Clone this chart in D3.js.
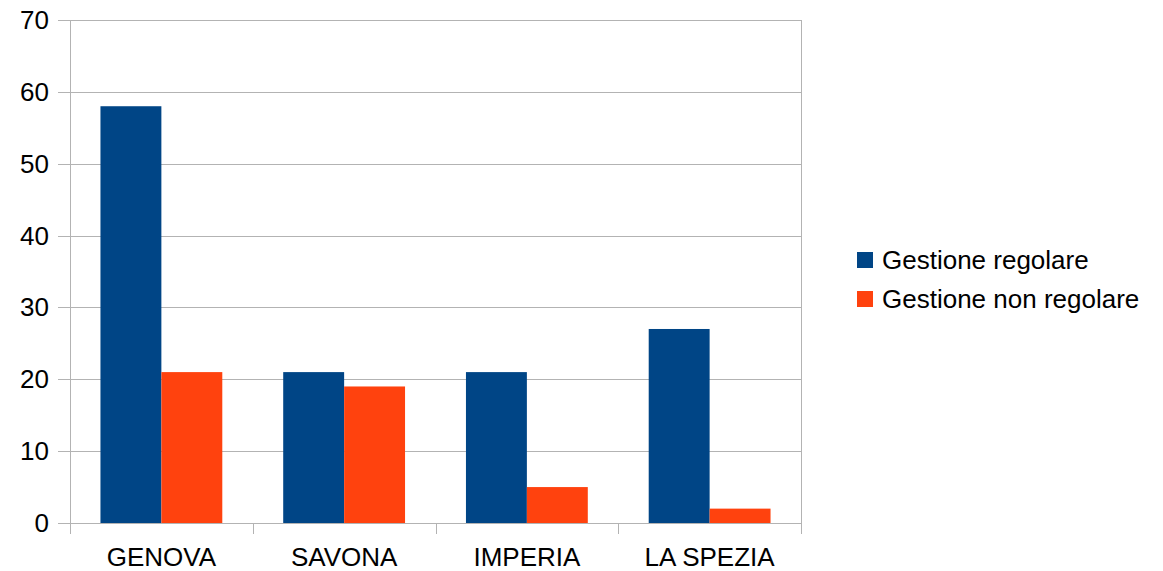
<!DOCTYPE html>
<html>
<head>
<meta charset="utf-8">
<script src="https://cdn.jsdelivr.net/npm/d3@7"></script>
<style>
  html, body { margin: 0; padding: 0; background: #fff; }
  svg text { font-family: "Liberation Sans", Arial, sans-serif; fill: #000; }
</style>
</head>
<body>
<svg id="chart" width="1163" height="571"></svg>
<script>
// Province names along the x axis
const categories = ["GENOVA", "SAVONA", "IMPERIA", "LA SPEZIA"];
// Series
const seriesNames = ["Gestione regolare", "Gestione non regolare"];
const regolare = [58, 21, 21, 27];
const nonRegolare = [21, 19, 5, 2];
const yTicks = [0, 10, 20, 30, 40, 50, 60, 70];
const colors = ["#004586", "#ff420e"];

(function () {
  const svg = d3.select("#chart");
  const plotLeft = 70, plotRight = 801, plotTop = 20, plotBottom = 523;

  const x = d3.scaleBand().domain(categories).range([plotLeft, plotRight]).paddingInner(0).paddingOuter(0);
  const xs = d3.scaleBand().domain(seriesNames).range([0, x.bandwidth()]).paddingInner(0).paddingOuter(0.5);
  const y = d3.scaleLinear().domain([0, 70]).range([plotBottom, plotTop]);

  const grid = "#b3b3b3";

  // horizontal grid lines with tick stubs
  svg.append("g").selectAll("line").data(yTicks).join("line")
    .attr("x1", plotLeft - 12).attr("x2", plotRight)
    .attr("y1", d => Math.round(y(d)) + 0.5).attr("y2", d => Math.round(y(d)) + 0.5)
    .attr("stroke", grid).attr("stroke-width", 1);

  // left axis line and right frame line
  svg.append("line").attr("x1", plotLeft + 0.5).attr("x2", plotLeft + 0.5).attr("y1", plotTop).attr("y2", plotBottom + 11)
    .attr("stroke", grid);
  svg.append("line").attr("x1", plotRight + 0.5).attr("x2", plotRight + 0.5).attr("y1", plotTop).attr("y2", plotBottom + 11)
    .attr("stroke", grid);

  // category separator ticks below the axis
  const bounds = categories.map(c => x(c)).slice(1);
  svg.append("g").selectAll("line").data(bounds).join("line")
    .attr("x1", d => Math.round(d) + 0.5).attr("x2", d => Math.round(d) + 0.5)
    .attr("y1", plotBottom).attr("y2", plotBottom + 11)
    .attr("stroke", grid);

  // bars
  const data = [regolare, nonRegolare];
  data.forEach((vals, si) => {
    svg.append("g").selectAll("rect").data(categories).join("rect")
      .attr("x", (c) => x(c) + xs(seriesNames[si]))
      .attr("width", xs.bandwidth())
      .attr("y", (c, i) => y(vals[i]))
      .attr("height", (c, i) => y(0) - y(vals[i]))
      .attr("fill", colors[si]);
  });

  // baseline drawn over the bars
  svg.append("line").attr("x1", plotLeft - 12).attr("x2", plotRight)
    .attr("y1", Math.round(y(0)) + 0.5).attr("y2", Math.round(y(0)) + 0.5).attr("stroke", grid);

  // y tick labels
  svg.append("g").selectAll("text").data(yTicks).join("text")
    .attr("x", 49).attr("y", d => y(d) + 9)
    .attr("text-anchor", "end").attr("font-size", 26)
    .text(d => d);

  // x category labels
  svg.append("g").selectAll("text").data(categories).join("text")
    .attr("x", c => x(c) + x.bandwidth() / 2).attr("y", 566)
    .attr("text-anchor", "middle").attr("font-size", 26)
    .text(c => c);

  // legend
  const legend = svg.append("g");
  seriesNames.forEach((name, i) => {
    const cy = 260 + i * 39;
    legend.append("rect").attr("x", 857).attr("y", cy - 8).attr("width", 16).attr("height", 16).attr("fill", colors[i]);
    legend.append("text").attr("x", 882).attr("y", cy + 9).attr("font-size", 26).text(name);
  });
})();
</script>
</body>
</html>
